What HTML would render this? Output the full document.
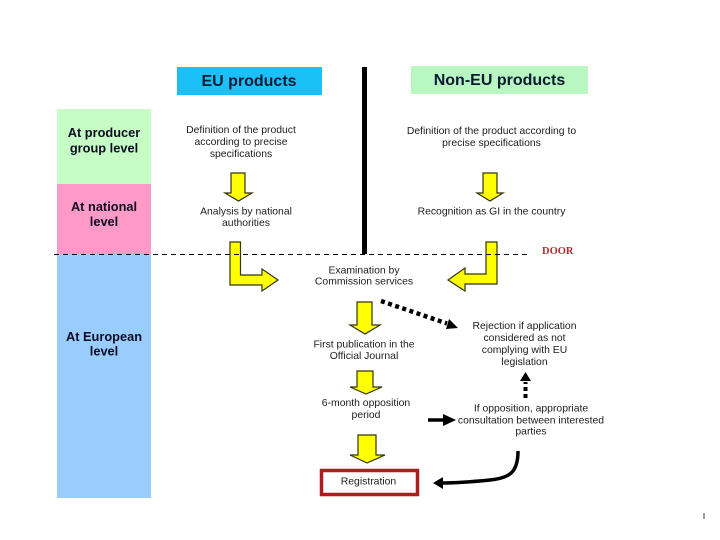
<!DOCTYPE html>
<html><head><meta charset="utf-8"><style>
html,body{margin:0;padding:0;background:#fff;width:720px;height:540px;overflow:hidden}
svg{display:block}
text{font-family:"Liberation Sans",sans-serif;fill:#1a1a1a}
.t{font-size:10.4px;text-anchor:middle;fill:#1c1c1c}
.l{font-size:12.8px;font-weight:bold;text-anchor:middle;fill:#0c0c22}
.h{font-size:16px;font-weight:bold;text-anchor:middle;fill:#0a1a30}
.y{fill:#ffff00;stroke:#33330c;stroke-width:1.2}
</style></head><body>
<svg width="720" height="540" viewBox="0 0 720 540" xmlns="http://www.w3.org/2000/svg">
<rect width="720" height="540" fill="#fff"/>
<rect x="57" y="109" width="94" height="75" fill="#c6fcc6"/>
<rect x="57" y="184" width="94" height="70" fill="#ff99c8"/>
<rect x="57" y="254" width="94" height="244" fill="#99ccff"/>
<rect x="177" y="67" width="145" height="28" fill="#1cc0f8"/>
<rect x="411" y="66" width="177" height="28" fill="#b8f6c2"/>

<text class="h" x="249" y="86">EU products</text>
<text class="h" x="499.500" y="85">Non-EU products</text>

<text class="l" x="104" y="137">At producer</text>
<text class="l" x="104" y="152.500">group level</text>
<text class="l" x="104" y="211">At national</text>
<text class="l" x="104" y="226">level</text>
<text class="l" x="104" y="341">At European</text>
<text class="l" x="104" y="355.500">level</text>

<polygon class="y" points="231,173 245,173 245,193 252,193 238.500,201 225,193 231,193"/>
<polygon class="y" points="483,173 497,173 497,193 503,193 490,201 477,193 483,193"/>
<polygon class="y" points="230,242 240.500,242 240.500,275 262,275 262,269 278,280 262,291 262,285 230,285"/>
<polygon class="y" points="497,242 486,242 486,274 465,274 465,268 448,280 465,291 465,284 497,284"/>
<polygon class="y" points="357,302 372,302 372,325 380,325 365,334 350,325 357,325"/>
<polygon class="y" points="357,371 373,371 373,387 382,387 366,394 350,387 357,387"/>
<polygon class="y" points="358,435 376,435 376,455 385,455 367,463 350,455 358,455"/>

<line x1="54" y1="254.500" x2="530" y2="254.500" stroke="#000" stroke-width="1" stroke-dasharray="5 4"/>
<rect x="362" y="67" width="5" height="187" fill="#000"/>

<text x="542" y="254" style="font-family:'Liberation Serif',serif;font-size:10.500px;font-weight:bold;fill:#a83030">DOOR</text>

<text class="t" x="241" y="133">Definition of the product</text>
<text class="t" x="241" y="145">according to precise</text>
<text class="t" x="241" y="157">specifications</text>
<text class="t" x="246" y="214.500">Analysis by national</text>
<text class="t" x="246" y="226">authorities</text>

<text class="t" x="491.500" y="134">Definition of the product according to</text>
<text class="t" x="491.500" y="146">precise specifications</text>
<text class="t" x="491.500" y="214.500">Recognition as GI in the country</text>

<text class="t" x="364" y="273.500">Examination by</text>
<text class="t" x="364" y="284.500">Commission services</text>
<text class="t" x="364" y="347.500">First publication in the</text>
<text class="t" x="364" y="359">Official Journal</text>
<text class="t" x="366" y="406">6-month opposition</text>
<text class="t" x="366" y="418">period</text>

<text class="t" x="524.500" y="329">Rejection if application</text>
<text class="t" x="524.500" y="341">considered as not</text>
<text class="t" x="524.500" y="353">complying with EU</text>
<text class="t" x="524.500" y="365">legislation</text>
<text class="t" x="531" y="411.500">If opposition, appropriate</text>
<text class="t" x="531" y="423.500">consultation between interested</text>
<text class="t" x="531" y="434.500">parties</text>

<rect x="321.500" y="470.500" width="96" height="24" fill="#fff" stroke="#b01c1c" stroke-width="3.500"/>
<text class="t" x="368.500" y="484.500">Registration</text>

<line x1="381" y1="301" x2="447" y2="323.500" stroke="#000" stroke-width="4.500" stroke-dasharray="4 3.500"/>
<polygon points="449,319 458,328 446,329" fill="#000"/>

<line x1="525.500" y1="398" x2="525.500" y2="382" stroke="#000" stroke-width="4" stroke-dasharray="4 3"/>
<polygon points="525.500,372 531,381 520,381" fill="#000"/>

<line x1="428" y1="420" x2="445" y2="420" stroke="#000" stroke-width="3.500"/>
<polygon points="456,420 443,414 443,426" fill="#000"/>

<path d="M518 451 C518 472 510 478 490 480 C470 482 455 483 440 483" fill="none" stroke="#000" stroke-width="3.500"/>
<polygon points="433,483 443,477 443,489" fill="#000"/>

<rect x="703" y="513" width="2" height="6" fill="#667788" opacity=".7"/>
</svg>
</body></html>
